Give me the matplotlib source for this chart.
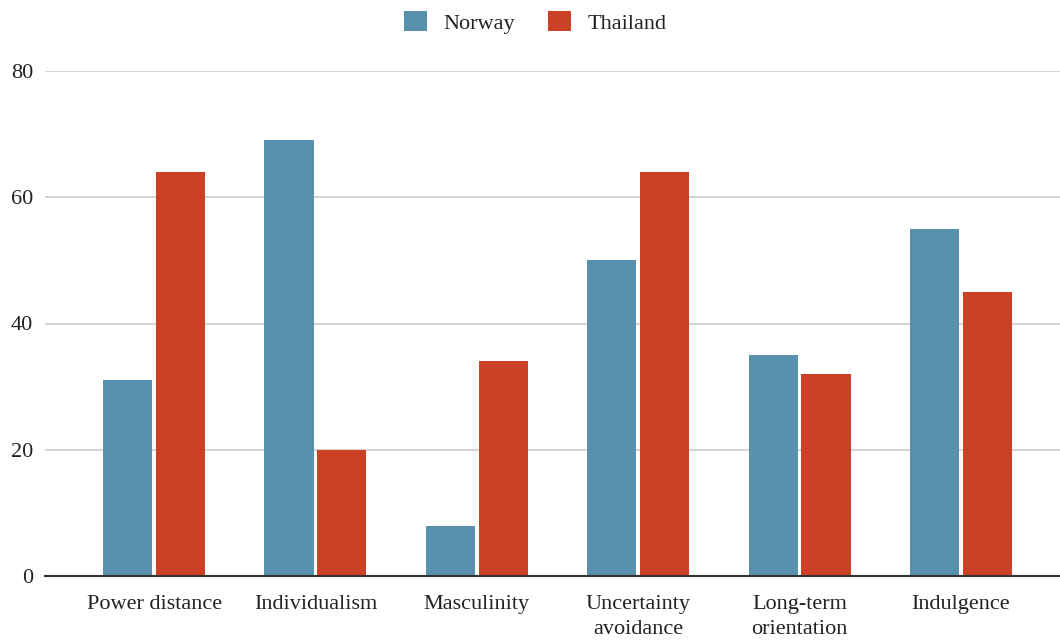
import matplotlib.pyplot as plt
import numpy as np

categories = ["Power distance", "Individualism", "Masculinity",
              "Uncertainty\navoidance", "Long-term\norientation", "Indulgence"]
norway = [31, 69, 8, 50, 35, 55]
thailand = [64, 20, 34, 64, 32, 45]
yticks = [0, 20, 40, 60, 80]

plt.rcParams['font.family'] = ['Liberation Serif', 'DejaVu Serif']

fig = plt.figure(figsize=(10.6, 6.41), dpi=100)
ax = fig.add_axes([45 / 1060, 1 - 576 / 641, 1 - 45 / 1060, (576 - 71) / 641])

x = np.arange(len(categories))
w = 0.304
off = 0.164
ax.bar(x - off, norway, width=w, color="#5891ad", label="Norway", zorder=3)
ax.bar(x + off, thailand, width=w, color="#cc4125", label="Thailand", zorder=3)

ax.set_xlim(-0.676, 5.614)
ax.set_ylim(0, 80)
ax.set_yticks(yticks)
ax.set_xticks(x)
ax.set_xticklabels(categories, fontsize=16, color="#222222", linespacing=1.45,
                   va="top")
ax.tick_params(axis="y", labelsize=16, labelcolor="#222222", length=0, pad=8.5)
ax.tick_params(axis="x", length=0, pad=13.5)
ax.grid(axis="y", color="#cccccc", linewidth=1.2, zorder=0)
for s in ["top", "right", "left"]:
    ax.spines[s].set_visible(False)
ax.spines["bottom"].set_color("#333333")
ax.spines["bottom"].set_linewidth(1.5)
ax.spines["bottom"].set_zorder(4)

fig.legend(loc="upper center", bbox_to_anchor=(0.505, 1.014), ncol=2, frameon=False,
           fontsize=16, handlelength=1.0, handleheight=1.0, columnspacing=1.5,
           handletextpad=0.75, labelcolor="#222222")

fig.savefig("out.png", dpi=100)
